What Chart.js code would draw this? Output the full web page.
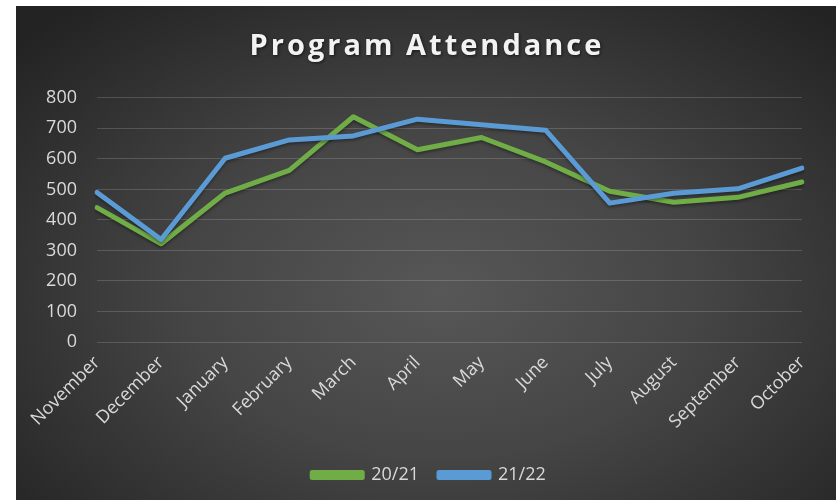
<!DOCTYPE html>
<html>
<head>
<meta charset="utf-8">
<script src="https://cdn.jsdelivr.net/npm/chart.js@4/dist/chart.umd.min.js"></script>
<style>
  html, body { margin: 0; padding: 0; background: #fff; }
  #box {
    position: absolute; left: 16px; top: 6px; width: 820px; height: 494px;
    background: radial-gradient(ellipse 70% 75% at 52% 58%, #575757 0%, #454545 45%, #2c2c2c 85%, #232323 100%);
  }
</style>
</head>
<body>
<div id="box"><canvas id="c"></canvas></div>
<script>
// Program Attendance — two seasons, Nov → Oct
const months = ['November', 'December', 'January', 'February', 'March', 'April',
  'May', 'June', 'July', 'August', 'September', 'October'];
const season2021 = [440, 322, 488, 562, 738, 630, 670, 590, 494, 458, 474, 524];
const season2122 = [490, 336, 602, 662, 675, 730, 712, 694, 455, 487, 502, 570];
const yTicks = [0, 100, 200, 300, 400, 500, 600, 700, 800];

const GREEN = '#70AD47', BLUE = '#5B9BD5', TXT = '#d9d9d9';
const FONT = '"Open Sans", "DejaVu Sans", sans-serif';

// wrap a layout box's draw with some extra canvas state
function wrapDraw(box, dx, setup) {
  if (!box || box._wrapped) return;
  const orig = box.draw;
  box.draw = function () {
    const ctx = this.ctx;
    ctx.save();
    ctx.translate(dx, 0);
    setup && setup(ctx);
    orig.apply(this, arguments);
    ctx.restore();
  };
  box._wrapped = true;
}

// title: letter spacing + soft shadow; title and legend re-centred on the
// whole canvas (the right padding pushes them left)
const officeLook = {
  id: 'officeLook',
  beforeDraw(chart) {
    wrapDraw(chart.titleBlock, 18, ctx => {
      ctx.letterSpacing = '3px';
      ctx.shadowColor = 'rgba(0,0,0,0.6)';
      ctx.shadowBlur = 3;
      ctx.shadowOffsetX = 1;
      ctx.shadowOffsetY = 1;
    });
    wrapDraw(chart.legend, 20);
  },
  beforeDatasetDraw(chart) {
    const ctx = chart.ctx;
    ctx.save();
    ctx.shadowColor = 'rgba(0,0,0,0.35)';
    ctx.shadowBlur = 3;
    ctx.shadowOffsetY = 2;
  },
  afterDatasetDraw(chart) { chart.ctx.restore(); },
};

new Chart(document.getElementById('c'), {
  type: 'line',
  data: {
    labels: months,
    datasets: [
      { label: '21/22', data: season2122, borderColor: BLUE, backgroundColor: BLUE },
      { label: '20/21', data: season2021, borderColor: GREEN, backgroundColor: GREEN },
    ],
  },
  options: {
    responsive: true,
    maintainAspectRatio: false,
    animation: false,
    layout: { padding: { left: 0, right: 34, top: 0, bottom: 6 } },
    elements: {
      line: { borderWidth: 5, tension: 0, borderJoinStyle: 'round', borderCapStyle: 'round' },
      point: { radius: 0, hoverRadius: 0 },
    },
    scales: {
      x: {
        offset: false,
        grid: { display: false, drawTicks: false },
        border: { display: false },
        ticks: { color: TXT, font: { family: FONT, size: 18 }, minRotation: 45, maxRotation: 45, padding: 10, autoSkip: false },
        afterFit: s => { s.height = 104; },
      },
      y: {
        min: 0, max: 800,
        afterBuildTicks: s => { s.ticks = yTicks.map(v => ({ value: v })); },
        grid: { color: 'rgba(255,255,255,0.16)', lineWidth: 1, drawTicks: false },
        border: { display: false },
        ticks: { color: TXT, font: { family: FONT, size: 18 }, padding: 20 },
        afterFit: s => { s.width = 81; },
      },
    },
    plugins: {
      title: {
        display: true,
        text: 'Program Attendance',
        color: '#f2f2f2',
        font: { family: FONT, size: 29, weight: 'bold' },
        padding: { top: 23, bottom: 34 },
      },
      legend: {
        position: 'bottom',
        labels: {
          color: TXT, font: { family: FONT, size: 18 }, boxWidth: 50, boxHeight: 5, padding: 20,
          sort: (a, b) => b.datasetIndex - a.datasetIndex,
        },
      },
      tooltip: { enabled: false },
    },
  },
  plugins: [officeLook],
});
</script>
</body>
</html>
